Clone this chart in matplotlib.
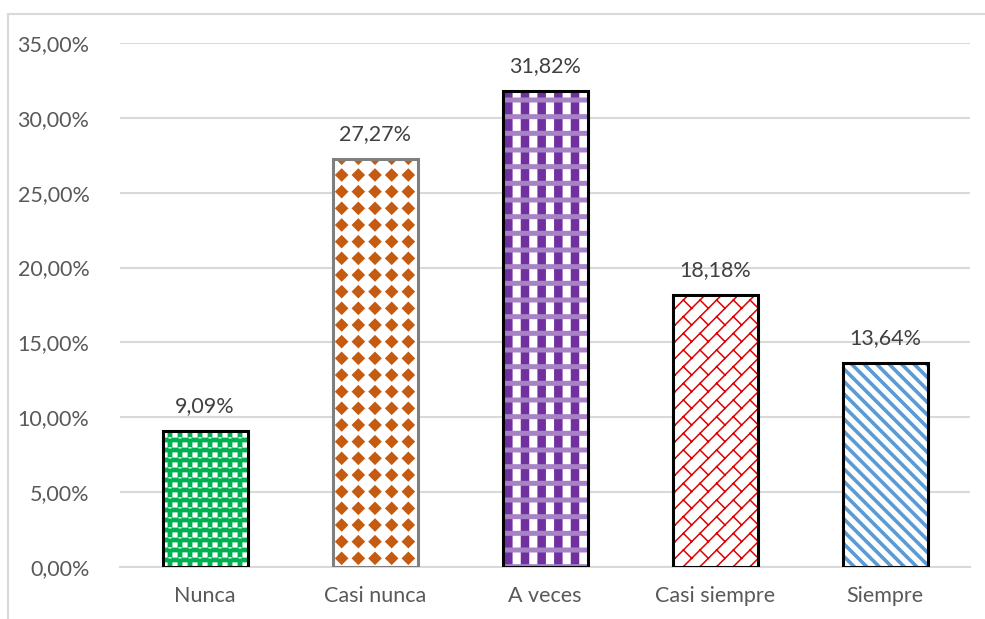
import warnings
import matplotlib
matplotlib.use("Agg")
import matplotlib.pyplot as plt
import matplotlib.hatch as mhatch
from matplotlib.path import Path
from matplotlib.lines import Line2D
from matplotlib.ticker import FuncFormatter, MultipleLocator

warnings.filterwarnings("ignore")

categories = ["Nunca", "Casi nunca", "A veces", "Casi siempre", "Siempre"]
values = [9.09, 27.27, 31.82, 18.18, 13.64]
value_labels = ["9,09%", "27,27%", "31,82%", "18,18%", "13,64%"]


# ---- Office-style fill patterns, defined on the one-inch hatch tile ----
def _rect(cx, cy, w, h):
    return [(cx - w / 2, cy - h / 2), (cx + w / 2, cy - h / 2),
            (cx + w / 2, cy + h / 2), (cx - w / 2, cy + h / 2)]


def _diamond(cx, cy, r):
    return [(cx - r, cy), (cx, cy - r), (cx + r, cy), (cx, cy + r)]


def _sphere():
    n = 10
    polys = []
    for i in range(n):
        for j in range(n):
            polys.append(_rect((i + 0.5) / n, (j + 0.5) / n, 0.052, 0.052))
    for i in range(n + 1):
        for j in range(n + 1):
            polys.append(_rect(i / n, j / n + 0.022, 0.032, 0.013))
    return polys, []


def _solid_diamond():
    n = 6
    polys = [_diamond((i + 0.5) / n, (j + 0.5) / n, 0.068)
             for i in range(n) for j in range(n)]
    return polys, []


def _plaid_columns():
    n = 6
    return [_rect((i + 0.5) / n, 0.5, 0.085, 1.0) for i in range(n)], []


def _plaid_bands():
    n = 6
    return [_rect(0.5, j / n, 1.0, 0.05) for j in range(n + 1)], []


def _diag_brick():
    n = 6
    lines = [((0.0, k / n), (1.0, 1.0 + k / n)) for k in range(-n - 1, n + 1)]
    for k in range(-2 * n, 2 * n):
        for j in range(-1, n + 2):
            x0, y0 = j / n, (j + k + 1) / n
            x1, y1 = x0 + 0.5 / n, y0 - 0.5 / n
            if -0.2 < x0 < 1.2 and -0.2 < y0 < 1.2:
                lines.append(((x0, y0), (x1, y1)))
    return [], lines


def _wide_down_diag():
    n = 8
    return [], [((0.0, k / n), (1.0, k / n - 1.0)) for k in range(0, 2 * n + 1)]


class _OfficePatterns(mhatch.HatchPatternBase):
    builders = {"G": _sphere, "D": _solid_diamond, "P": _plaid_columns,
                "L": _plaid_bands, "R": _diag_brick, "S": _wide_down_diag}

    def __init__(self, hatch, density):
        self.polys, self.lines = [], []
        for key, fn in self.builders.items():
            if key in hatch:
                p, l = fn()
                self.polys += p
                self.lines += l
        self.num_vertices = (sum(len(p) + 1 for p in self.polys)
                             + 2 * len(self.lines))

    def set_vertices_and_codes(self, vertices, codes):
        i = 0
        for p in self.polys:
            n = len(p)
            vertices[i:i + n] = p
            vertices[i + n] = p[0]
            codes[i] = Path.MOVETO
            codes[i + 1:i + n] = Path.LINETO
            codes[i + n] = Path.CLOSEPOLY
            i += n + 1
        for a, b in self.lines:
            vertices[i] = a
            vertices[i + 1] = b
            codes[i] = Path.MOVETO
            codes[i + 1] = Path.LINETO
            i += 2


mhatch._hatch_types.append(_OfficePatterns)

# per-bar layers: list of (face, pattern colour, pattern, pattern line width), outline
styles = [
    ([("#00B050", "white", "G", 0.01)], "black"),
    ([("white", "#C55A11", "D", 0.01)], "#7F7F7F"),
    ([("white", "#7030A0", "P", 0.01), ("none", "#A783C6", "L", 0.01)], "black"),
    ([("white", "#E00000", "R", 1.1)], "black"),
    ([("white", "#5B9BD5", "S", 2.6)], "black"),
]

plt.rcParams["font.family"] = ["Lato", "DejaVu Sans"]
text_color = "#595959"

fig = plt.figure(figsize=(9.85, 6.19), dpi=100)
ax = fig.add_axes([120 / 985, 52 / 619, 850 / 985, 524 / 619])

x = list(range(len(categories)))
for xi, v, (layers, edge) in zip(x, values, styles):
    for face, hcol, hatch, hlw in layers:
        with plt.rc_context({"hatch.linewidth": hlw}):
            ax.bar(xi, v, width=0.5, color=face, edgecolor=hcol, hatch=hatch,
                   linewidth=0, zorder=3)
    ax.bar(xi, v, width=0.5, fill=False, edgecolor=edge, linewidth=2.2, zorder=4)
    ax.text(xi, v + 1.0, value_labels[xi], ha="center", va="bottom",
            fontsize=15.5, color="#404040")

ax.set_xlim(-0.5, len(categories) - 0.5)
ax.set_ylim(0, 35)
ax.yaxis.set_major_locator(MultipleLocator(5))
ax.yaxis.set_major_formatter(FuncFormatter(lambda v, _: f"{v:.2f}%".replace(".", ",")))
ax.set_xticks(x)
ax.set_xticklabels(categories)
ax.tick_params(axis="both", length=0, labelsize=15.5, labelcolor=text_color)
ax.tick_params(axis="y", pad=22)
ax.tick_params(axis="x", pad=14)
ax.grid(axis="y", color="#D9D9D9", linewidth=1.5, zorder=0)
for s in ["top", "right", "left"]:
    ax.spines[s].set_visible(False)
ax.spines["bottom"].set_color("#D9D9D9")
ax.spines["bottom"].set_linewidth(1.5)

# chart frame (top and left edges)
fig.add_artist(Line2D([8 / 985, 8 / 985], [0, 1 - 14 / 619], color="#D9D9D9",
                      linewidth=1.5, transform=fig.transFigure))
fig.add_artist(Line2D([8 / 985, 1], [1 - 14 / 619, 1 - 14 / 619], color="#D9D9D9",
                      linewidth=1.5, transform=fig.transFigure))

fig.savefig("out.png", dpi=100)
